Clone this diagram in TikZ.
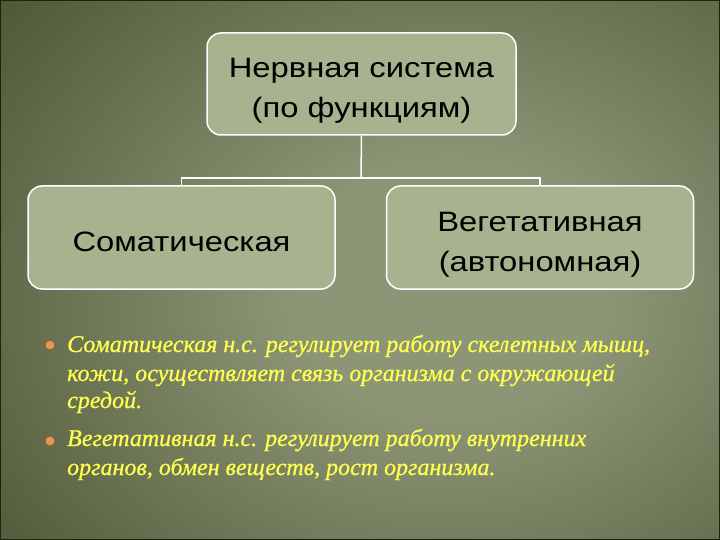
\documentclass[tikz,border=0pt]{standalone}
\usepackage{fontspec}
\setmainfont{Liberation Serif}
\newfontfamily\boxfont[FakeStretch=1.17]{Liberation Sans}
\newfontfamily\itemfont[FakeBold=0.8]{Liberation Serif}
\definecolor{bgdark}{RGB}{50,58,24}
\definecolor{bglight}{RGB}{140,149,118}
\definecolor{bgframe}{RGB}{30,35,16}
\definecolor{boxfill}{RGB}{167,179,142}
\definecolor{itemtext}{RGB}{255,255,80}
\definecolor{itemdot}{RGB}{228,150,84}
\pgfdeclareradialshading{slidebg}{\pgfpoint{0bp}{0bp}}{color(0bp)=(bglight); color(5bp)=(bglight); color(25bp)=(bgdark); color(50bp)=(bgdark)}
\newcommand\boxtop{\rule{0pt}{35pt}}
\newcommand\boxbot{\rule[-7pt]{0pt}{7pt}}
\tikzset{
  kind/.style={draw=white, line width=1.5pt, fill=boxfill, rounded corners=14pt,
    minimum width=307pt, minimum height=103pt, align=center, inner sep=0pt,
    font=\boxfont\fontsize{28}{40}\selectfont},
  link/.style={draw=white, line width=1.5pt},
  item/.style={anchor=base west, inner sep=0pt, text=itemtext,
    font=\itemfont\itshape\fontsize{24}{28}\selectfont},
  dot/.style={circle, fill=itemdot, draw=itemdot!60!black, line width=0.8pt,
    inner sep=0pt, minimum size=10pt}
}
\begin{document}
\begin{tikzpicture}[x=1pt, y=-1pt]
  \useasboundingbox (0,0) rectangle (720,540);
  % background
  \begin{scope}
    \clip (0,0) rectangle (720,540);
    \shade[shading=slidebg] (450,290) ellipse (780 and 620);
  \end{scope}
  \draw[bgframe, line width=2pt] (0,0) rectangle (720,540);

  % boxes
  \node[kind, minimum width=309pt, minimum height=102pt] (ns) at (361.5,84) {\boxtop Нервная система\\(по функциям)\boxbot};
  \node[kind] (som) at (181.5,237.5) {\boxtop Соматическая\boxbot};
  \node[kind] (veg) at (540,237.5) {\boxtop Вегетативная\\(автономная)\boxbot};

  % tree lines
  \coordinate (fork) at (361,178);
  \draw[link] (ns.south) -- (fork);
  \draw[link] (som.north) |- (fork) -| (veg.north);

  % bullet list
  \node[dot] (d1) at (50,345) {};
  \node[item] (t1) at (67,352) {Соматическая н.с. регулирует работу скелетных мышц,};
  \node[item] (t2) at (67,381) {кожи, осуществляет связь организма с окружающей};
  \node[item] (t3) at (67,408) {средой.};
  \node[dot] (d2) at (50,441) {};
  \node[item] (t4) at (67,446) {Вегетативная н.с. регулирует работу внутренних};
  \node[item] (t5) at (67,475) {органов, обмен веществ, рост организма.};
\end{tikzpicture}
\end{document}
